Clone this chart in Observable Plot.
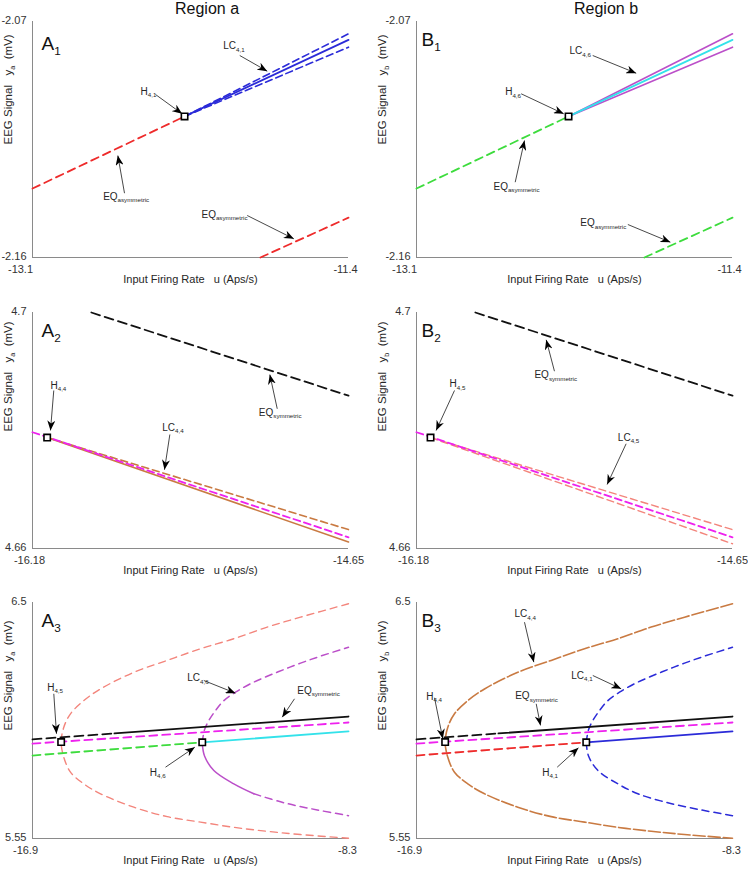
<!DOCTYPE html>
<html><head><meta charset="utf-8">
<script src="https://cdn.jsdelivr.net/npm/d3@7"></script>
<script src="https://cdn.jsdelivr.net/npm/@observablehq/plot@0.6"></script>
<style>
body{margin:0;background:#fff;}
#fig{position:relative;width:748px;height:871px;overflow:hidden;background:#fff;font-family:"Liberation Sans",Arial,Helvetica,sans-serif;}
#fig svg{position:absolute;background:none;}
.title{position:absolute;top:0;font-size:16px;line-height:18px;color:#111;transform:translateX(-50%);white-space:nowrap;z-index:5;}
</style></head><body><div id="fig"></div>
<script>
// ---------------- axis ranges / tick values ----------------
const row1U = [-13.1, -11.4], row1Y = [-2.16, -2.07];
const row2U = [-16.18, -14.65], row2Y = [4.66, 4.70];
const row3U = [-16.9, -8.3], row3Y = [5.55, 6.5];
const row1UTicks = [-13.1, -11.4], row1YTicks = [-2.16, -2.07];
const row2UTicks = [-16.18, -14.65], row2YTicks = [4.66, 4.7];
const row3UTicks = [-16.9, -8.3], row3YTicks = [5.55, 6.5];
const titles = ["Region a", "Region b"];
const xLabel = "Input Firing Rate   u (Aps/s)";
const yLabelA = "EEG Signal   y_{a}  (mV)";
const yLabelB = "EEG Signal   y_{b}  (mV)";

// ---------------- row 1 series [u, y] ----------------
const eqAsymUpper1 = [[-13.1, -2.1337], [-12.282, -2.1062]];
const eqAsymLower1 = [[-11.874, -2.16], [-11.4, -2.1448]];
const lcUpper1 = [[-12.282, -2.1062], [-11.4, -2.0747]];
const eqStable1 = [[-12.282, -2.1062], [-11.4, -2.0770]];
const lcLower1 = [[-12.282, -2.1062], [-11.4, -2.0798]];
const hopf1 = [[-12.282, -2.1062]];

// ---------------- row 2 series ----------------
const eqSym2 = [[-15.895, 4.7000], [-14.65, 4.6859]];
const eqMag2 = [[-16.18, 4.6797], [-14.65, 4.6619]];
const lc44Upper2 = [[-16.109, 4.6788], [-14.65, 4.6632]];
const lc44Lower2 = [[-16.109, 4.6788], [-14.65, 4.6611]];
const lc45Upper2 = [[-16.112, 4.6788], [-14.65, 4.6632]];
const lc45Lower2 = [[-16.112, 4.6788], [-14.65, 4.6608]];
const hopfA2 = [[-16.109, 4.6788]];
const hopfB2 = [[-16.112, 4.6788]];

// ---------------- row 3 series ----------------
const eqSymUnstable3 = [[-16.9, 5.949], [-14.67, 5.973]];
const eqSymStable3 = [[-14.67, 5.973], [-8.3, 6.041]];
const eqMag3 = [[-16.9, 5.932], [-8.3, 6.017]];
const eqAsym3 = [[-16.9, 5.884], [-12.28, 5.937]];
const eqAsymStable3 = [[-12.28, 5.937], [-8.3, 5.981]];
const outerUpper3 = [[-16.12, 5.938], [-16.048, 5.998], [-15.866, 6.052], [-15.504, 6.105], [-15.049, 6.152], [-14.143, 6.219], [-13.234, 6.267], [-12.327, 6.314], [-11.421, 6.354], [-10.512, 6.401], [-9.605, 6.441], [-8.3, 6.495]];
const outerLower3 = [[-16.12, 5.938], [-16.048, 5.877], [-15.866, 5.817], [-15.504, 5.770], [-15.049, 5.730], [-14.143, 5.676], [-13.234, 5.638], [-12.327, 5.616], [-11.421, 5.595], [-10.512, 5.579], [-9.605, 5.566], [-8.3, 5.551]];
const innerUpper3 = [[-12.28, 5.937], [-12.218, 5.988], [-12.101, 6.025], [-11.919, 6.065], [-11.693, 6.105], [-11.375, 6.139], [-10.966, 6.173], [-10.512, 6.203], [-10.060, 6.230], [-9.605, 6.256], [-9.061, 6.284], [-8.3, 6.320]];
const innerLower3 = [[-12.28, 5.937], [-12.218, 5.882], [-11.965, 5.824], [-11.421, 5.770], [-10.876, 5.730], [-10.060, 5.694], [-9.151, 5.665], [-8.3, 5.642]];
const innerLowerStableEnd3 = -10.876;
const hopfA3 = [[-16.12, 5.938], [-12.28, 5.937]];
const hopfB3 = [[-16.12, 5.938], [-12.28, 5.937]];

// ---------------- annotations: [text, u, y] and arrows [u1, y1, u2, y2] ----------------
const labelsA1 = [["LC_{4,1}", -12.074, -2.07934], ["H_{4,1}", -12.519, -2.09662], ["EQ_{asymmetric}", -12.720, -2.13666], ["EQ_{asymmetric}", -12.191, -2.14368]];
const arrowsA1 = [[-11.985, -2.08297, -11.837, -2.08895], [-12.438, -2.09784, -12.295, -2.10520], [-12.605, -2.13548, -12.641, -2.12110], [-11.945, -2.14398, -11.694, -2.15287]];
const labelsB1 = [["LC_{4,6}", -12.277, -2.08118], ["H_{4,6}", -12.623, -2.09696], ["EQ_{asymmetric}", -12.686, -2.13285], ["EQ_{asymmetric}", -12.219, -2.14684]];
const arrowsB1 = [[-12.152, -2.08297, -11.918, -2.08972], [-12.537, -2.09757, -12.308, -2.10520], [-12.569, -2.13128, -12.519, -2.11538], [-11.963, -2.14742, -11.734, -2.15417]];
const labelsA2 = [["H_{4,4}", -16.093, 4.68763], ["LC_{4,4}", -15.552, 4.68051], ["EQ_{symmetric}", -15.084, 4.68305]];
const arrowsA2 = [[-16.077, 4.68678, -16.093, 4.68000], [-15.515, 4.67932, -15.541, 4.67334], [-14.995, 4.68368, -15.031, 4.68949]];
const labelsB2 = [["EQ_{symmetric}", -15.609, 4.68941], ["H_{4,5}", -16.020, 4.68785], ["LC_{4,5}", -15.205, 4.67881]];
const arrowsB2 = [[-15.512, 4.69005, -15.552, 4.69537], [-15.996, 4.68678, -16.085, 4.68000], [-15.165, 4.67775, -15.257, 4.67085]];
const labelsA3 = [["H_{4,5}", -16.500, 6.1578], ["LC_{4,6}", -12.690, 6.1949], ["EQ_{symmetric}", -9.696, 6.1446], ["H_{4,6}", -13.708, 5.8149]];
const arrowsA3 = [[-16.320, 6.1325, -16.247, 5.9715], [-12.238, 6.1860, -11.375, 6.1349], [-9.770, 6.1123, -10.104, 6.0383], [-13.280, 5.8370, -12.483, 5.9175]];
const labelsB3 = [["LC_{4,4}", -14.233, 6.4529], ["LC_{4,1}", -12.690, 6.2049], ["EQ_{symmetric}", -14.214, 6.1236], ["H_{4,4}", -16.636, 6.1204], ["H_{4,1}", -13.479, 5.8149]];
const arrowsB3 = [[-13.961, 6.4207, -13.707, 6.2597], [-12.102, 6.2061, -11.329, 6.1526], [-13.642, 6.0922, -13.525, 6.0049], [-16.410, 6.1164, -16.184, 5.9513], [-13.071, 5.8370, -12.491, 5.9151]];
const panelTags = ["A_{1}", "B_{1}", "A_{2}", "B_{2}", "A_{3}", "B_{3}"];

// ---------------- styles ----------------
const FONT = '"Liberation Sans", Arial, Helvetica, sans-serif';
const AXIS = "#8a8a8a", TXT = "#262626";
const RED = "#ee2b2b", BLUE = "#2b2bd8", GREEN = "#3ddc3d", CYAN = "#33e2ea", MAGENTA = "#ee22ee",
      PURPLE = "#bb4fc9", BROWN = "#c97a42", SALMON = "#f3857c", BLACK = "#111111";

const outer3 = outerUpper3.slice().reverse().concat(outerLower3.slice(1));
const innerLowerStable3 = innerLower3.filter(d => d[0] <= innerLowerStableEnd3);
const innerLowerUnstable3 = innerLower3.filter(d => d[0] >= innerLowerStableEnd3);

function S(data, stroke, dash, width, curve) { return {data, stroke, dash, width, curve}; }

const panels = [
  { col: 0, row: 0, U: row1U, Y: row1Y, uT: row1UTicks, yT: row1YTicks, tag: panelTags[0], yl: yLabelA,
    series: [S(eqAsymUpper1, RED, "8,5", 1.8), S(eqAsymLower1, RED, "8,5", 1.8), S(lcUpper1, BLUE, "7,4", 1.6), S(lcLower1, BLUE, "7,4", 1.6), S(eqStable1, BLUE, null, 1.8)],
    hopf: hopf1, labels: labelsA1, arrows: arrowsA1 },
  { col: 1, row: 0, U: row1U, Y: row1Y, uT: row1UTicks, yT: row1YTicks, tag: panelTags[1], yl: yLabelB,
    series: [S(eqAsymUpper1, GREEN, "8,5", 1.8), S(eqAsymLower1, GREEN, "8,5", 1.8), S(lcUpper1, PURPLE, null, 1.6), S(lcLower1, PURPLE, null, 1.6), S(eqStable1, CYAN, null, 1.8)],
    hopf: hopf1, labels: labelsB1, arrows: arrowsB1 },
  { col: 0, row: 1, U: row2U, Y: row2Y, uT: row2UTicks, yT: row2YTicks, tag: panelTags[2], yl: yLabelA,
    series: [S(eqSym2, BLACK, "9,5", 1.8), S(lc44Lower2, BROWN, null, 1.6), S(lc44Upper2, BROWN, "7,4", 1.6), S(eqMag2, MAGENTA, "7,4", 1.8)],
    hopf: hopfA2, labels: labelsA2, arrows: arrowsA2 },
  { col: 1, row: 1, U: row2U, Y: row2Y, uT: row2UTicks, yT: row2YTicks, tag: panelTags[3], yl: yLabelB,
    series: [S(eqSym2, BLACK, "9,5", 1.8), S(lc45Lower2, SALMON, "7,4", 1.4), S(lc45Upper2, SALMON, "7,4", 1.4), S(eqMag2, MAGENTA, "7,4", 1.8)],
    hopf: hopfB2, labels: labelsB2, arrows: arrowsB2 },
  { col: 0, row: 2, U: row3U, Y: row3Y, uT: row3UTicks, yT: row3YTicks, tag: panelTags[4], yl: yLabelA,
    series: [S(outer3, SALMON, "7,5", 1.4, "catmull-rom"), S(innerUpper3, PURPLE, "7,5", 1.5, "catmull-rom"),
             S(innerLowerStable3, PURPLE, null, 1.5, "catmull-rom"), S(innerLowerUnstable3, PURPLE, "7,5", 1.5, "catmull-rom"),
             S(eqSymUnstable3, BLACK, "9,5", 1.8), S(eqSymStable3, BLACK, null, 1.8), S(eqMag3, MAGENTA, "8,5", 1.8),
             S(eqAsym3, GREEN, "8,5", 1.8), S(eqAsymStable3, CYAN, null, 1.8)],
    hopf: hopfA3, labels: labelsA3, arrows: arrowsA3 },
  { col: 1, row: 2, U: row3U, Y: row3Y, uT: row3UTicks, yT: row3YTicks, tag: panelTags[5], yl: yLabelB,
    series: [S(outer3, BROWN, "12,3", 1.6, "catmull-rom"), S(innerUpper3, BLUE, "7,5", 1.5, "catmull-rom"),
             S(innerLower3, BLUE, "7,5", 1.5, "catmull-rom"),
             S(eqSymUnstable3, BLACK, "9,5", 1.8), S(eqSymStable3, BLACK, null, 1.8), S(eqMag3, MAGENTA, "8,5", 1.8),
             S(eqAsym3, RED, "8,5", 1.8), S(eqAsymStable3, BLUE, null, 1.8)],
    hopf: hopfB3, labels: labelsB3, arrows: arrowsB3 }
];

// layout (pixels)
const colLeft = [0, 374], colMarginL = [32, 42], colMarginR = [26, 16];
const rowTop = [0, 291, 581];
const xTickDx = [[-12, -3], [-3, 0], [-7, -1]];
const yLabDy = [5, 1, 10];
const yLabDx = [-24, -34];
const tagDx = [9, 5];
const tagDy = [[15, 11], [11, 11], [11, 11]];

const fig = document.getElementById("fig");

function subscripts(svg) {
  d3.select(svg).selectAll("text").each(function () {
    const el = d3.select(this).attr("xml:space", "preserve").style("white-space", "pre");
    const t = this.textContent;
    if (!t.includes("_{")) return;
    const parts = t.split(/_\{([^}]*)\}/);
    el.text(null);
    let shift = 0;
    parts.forEach((p, i) => {
      if (!p) return;
      const ts = el.append("tspan").text(p);
      if (i % 2 === 1) { ts.attr("font-size", "0.62em").attr("dy", "0.4em"); shift = 0.4 * 0.62; }
      else if (shift) { ts.attr("dy", (-shift) + "em"); shift = 0; }
    });
  });
}

function arrowHeads(svg, id) {
  const s = d3.select(svg);
  const defs = s.insert("defs", ":first-child");
  defs.append("marker").attr("id", id).attr("viewBox", "0 0 10 8").attr("refX", 10).attr("refY", 4)
    .attr("markerWidth", 10).attr("markerHeight", 8).attr("markerUnits", "userSpaceOnUse").attr("orient", "auto")
    .append("path").attr("d", "M0,0L10,4L0,8L3,4Z").attr("fill", "#000");
  s.selectAll('g[aria-label="link"] path').attr("marker-end", `url(#${id})`);
}

panels.forEach((p, k) => {
  const marks = [
    Plot.ruleX([p.U[0]], {stroke: AXIS, strokeWidth: 1}),
    Plot.ruleY([p.Y[0]], {stroke: AXIS, strokeWidth: 1}),
    Plot.text(p.yT, {x: () => p.U[0], y: d => d, text: d => String(d), textAnchor: "end", dx: -6, dy: -1, fontSize: 11, fill: "#333"}),
    Plot.text([p.uT[0]], {x: d => d, y: () => p.Y[0], text: d => String(d), dy: 12, dx: xTickDx[p.row][0], fontSize: 11, fill: "#333"}),
    Plot.text([p.uT[1]], {x: d => d, y: () => p.Y[0], text: d => String(d), dy: 12, dx: xTickDx[p.row][1], fontSize: 11, fill: "#333"}),
    Plot.text([xLabel], {text: d => d, frameAnchor: "bottom", dy: 25, fontSize: 11, fill: TXT}),
    Plot.text([p.yl], {text: d => d, frameAnchor: "left", rotate: -90, dx: yLabDx[p.col], dy: yLabDy[p.row], fontSize: 11.5, fill: TXT}),
    Plot.text([p.tag], {text: d => d, frameAnchor: "top-left", textAnchor: "start", lineAnchor: "top", dx: tagDx[p.col], dy: tagDy[p.row][p.col], fontSize: 19, fill: "#111"})
  ];
  p.series.forEach(s => {
    marks.push(Plot.line(s.data, {x: d => d[0], y: d => d[1], stroke: s.stroke, strokeWidth: s.width,
      strokeDasharray: s.dash || undefined, curve: s.curve || "linear"}));
  });
  marks.push(Plot.link(p.arrows, {x1: d => d[0], y1: d => d[1], x2: d => d[2], y2: d => d[3], stroke: "#333", strokeWidth: 0.9}));
  marks.push(Plot.text(p.labels, {x: d => d[1], y: d => d[2], text: d => d[0], textAnchor: "start", fontSize: 10, fill: TXT}));
  marks.push(Plot.dot(p.hopf, {x: d => d[0], y: d => d[1], symbol: "square", r: 3.6, stroke: "#000", fill: "#fff", strokeWidth: 1.6}));

  const svg = Plot.plot({
    width: 374, height: 290,
    marginLeft: colMarginL[p.col], marginRight: colMarginR[p.col], marginTop: 21, marginBottom: 33,
    x: {domain: p.U, axis: null},
    y: {domain: p.Y, axis: null},
    style: {fontFamily: FONT, background: "none", overflow: "visible"},
    marks
  });
  svg.style.left = colLeft[p.col] + "px";
  svg.style.top = rowTop[p.row] + "px";
  fig.appendChild(svg);
  subscripts(svg);
  arrowHeads(svg, "ah" + k);
});

const titleX = [207, 606];
titles.forEach((t, i) => {
  const d = document.createElement("div");
  d.className = "title";
  d.style.left = titleX[i] + "px";
  d.textContent = t;
  fig.appendChild(d);
});
</script></body></html>
